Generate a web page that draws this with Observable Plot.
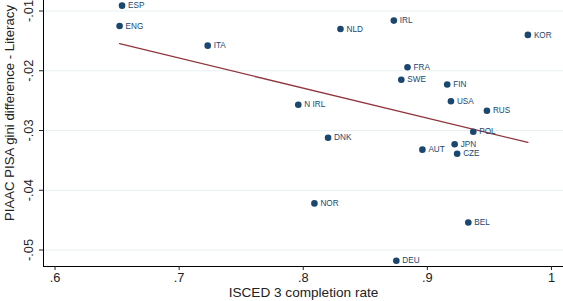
<!DOCTYPE html>
<html>
<head>
<meta charset="utf-8">
<script src="https://cdn.jsdelivr.net/npm/d3@7"></script>
<script src="https://cdn.jsdelivr.net/npm/@observablehq/plot@0.6"></script>
<style>
  html, body { margin: 0; padding: 0; background: #fff; }
  #chart svg { display: block; }
</style>
</head>
<body>
<div id="chart"></div>
<script>
// Countries with upper-secondary completion rate and PIAAC-PISA gini difference
const countries = ["ESP","ENG","ITA","NLD","IRL","KOR","FRA","SWE","FIN","USA","RUS","N IRL","POL","DNK","JPN","AUT","CZE","NOR","BEL","DEU"];
const completion = [0.654,0.652,0.723,0.830,0.873,0.981,0.884,0.879,0.916,0.919,0.948,0.796,0.937,0.820,0.922,0.896,0.924,0.809,0.933,0.875];
const giniDiff = [-0.0091,-0.0125,-0.0158,-0.0130,-0.0116,-0.0140,-0.0194,-0.0215,-0.0223,-0.0251,-0.0267,-0.0257,-0.0302,-0.0312,-0.0323,-0.0332,-0.0339,-0.0422,-0.0454,-0.0518];

const xTicks = [0.6, 0.7, 0.8, 0.9, 1];
const yTicks = [-0.05, -0.04, -0.03, -0.02, -0.01];

const data = countries.map((c, i) => ({country: c, x: completion[i], y: giniDiff[i]}));

const navy = "#1a476f";
const maroon = "#90353b";
const fmt = d => String(d).replace("0.", ".");

const xDomain = [0.5907, 1.0097];
const yDomain = [-0.05276, -0.00824];

const chart = Plot.plot({
  width: 563,
  height: 301,
  marginLeft: 43,
  marginRight: 0,
  marginTop: 0,
  marginBottom: 35,
  style: {fontFamily: "'Liberation Sans', Arial, sans-serif", background: "#fff"},
  x: {domain: xDomain},
  y: {domain: yDomain},
  marks: [
    Plot.gridY(yTicks, {stroke: "#e8eff2", strokeOpacity: 1, strokeWidth: 1}),
    Plot.ruleX([xDomain[0]], {stroke: "#000", strokeWidth: 1}),
    Plot.ruleY([yDomain[0]], {stroke: "#000", strokeWidth: 1}),
    Plot.axisY(yTicks, {
      tickFormat: fmt, tickSize: 4, tickPadding: 7, tickRotate: -90,
      fontSize: 12.8, label: null, color: "#222"
    }),
    Plot.axisX(xTicks, {
      tickFormat: fmt, tickSize: 4, tickPadding: 2,
      fontSize: 12.8, label: null, color: "#222"
    }),
    Plot.text(["ISCED 3 completion rate"], {
      frameAnchor: "bottom", dy: 30, fontSize: 13.6, fill: "#222", textAnchor: "middle"
    }),
    Plot.linearRegressionY(data, {x: "x", y: "y", stroke: maroon, strokeWidth: 1.3, ci: 0}),
    Plot.dot(data, {x: "x", y: "y", r: 3.3, fill: navy, stroke: "none"}),
    Plot.text(data, {x: "x", y: "y", text: "country", dx: 6, textAnchor: "start", fontSize: 8.2, fill: navy})
  ]
});

// Rotated y-axis title
const svg = d3.select(chart);
svg.append("text")
  .attr("transform", "translate(14,221) rotate(-90)")
  .attr("text-anchor", "start")
  .attr("font-size", 13.2)
  .attr("fill", "#222")
  .attr("font-family", "'Liberation Sans', Arial, sans-serif")
  .text("PIAAC PISA gini difference - Literacy");

document.getElementById("chart").appendChild(chart);
</script>
</body>
</html>
